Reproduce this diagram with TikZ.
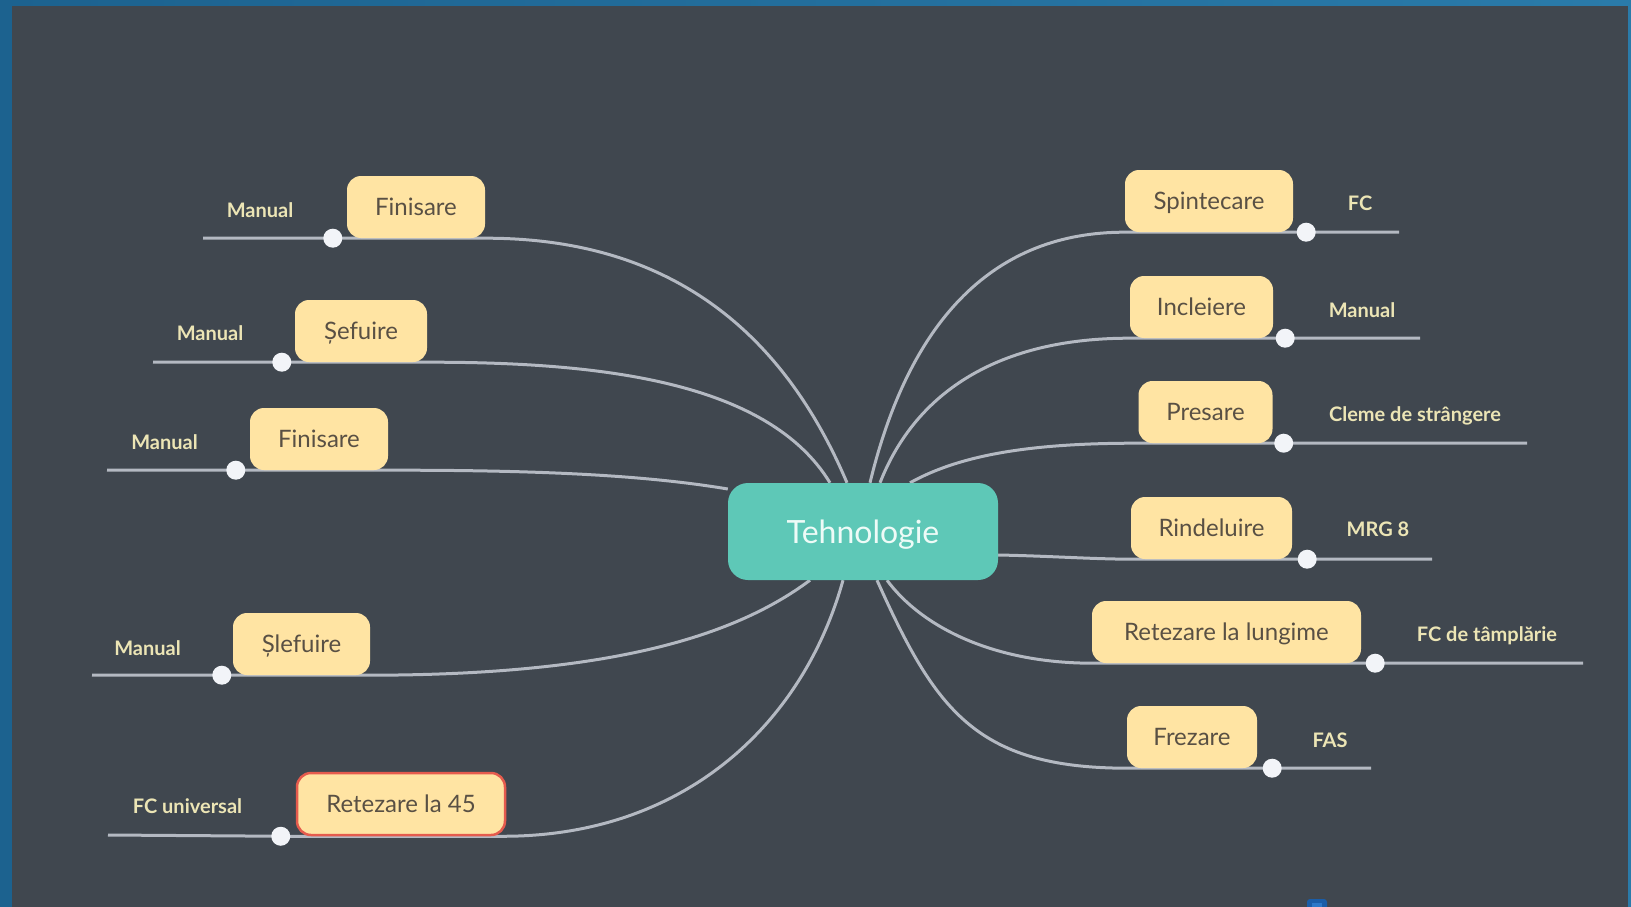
\documentclass[tikz,border=0pt]{standalone}
\usepackage{fontspec}
\setmainfont{Lato}
\usetikzlibrary{calc}
\definecolor{bgdark}{HTML}{40474F}
\definecolor{frameL}{HTML}{1C628F}
\definecolor{frameR}{HTML}{2A7BAA}
\definecolor{boxfill}{HTML}{FFE4A3}
\definecolor{boxtext}{HTML}{595044}
\definecolor{ctrfill}{HTML}{5EC8B7}
\definecolor{ctrtext}{HTML}{EEFBF7}
\definecolor{linec}{HTML}{B4B9C2}
\definecolor{dotc}{HTML}{F2F4F8}
\definecolor{labc}{HTML}{ECE5B5}
\definecolor{redb}{HTML}{E55B4D}
\definecolor{markA}{HTML}{1A5DA8}
\definecolor{markB}{HTML}{2C78C8}
\pgfdeclarelayer{bglayer}
\pgfdeclarelayer{linelayer}
\pgfsetlayers{bglayer,linelayer,main}
\tikzset{
  topic/.style={fill=boxfill, rounded corners=14pt, minimum height=62pt, inner sep=0pt,
    text=boxtext, font=\fontsize{24}{28}\selectfont, text height=17pt, text depth=0pt, align=center},
  central/.style={fill=ctrfill, rounded corners=20pt, minimum width=270pt, minimum height=97pt,
    inner sep=0pt, text=ctrtext, font=\fontsize{32}{38}\selectfont, text height=23pt, text depth=0pt},
  conn/.style={draw=linec, line width=3pt},
  dotnode/.style={circle, fill=dotc, minimum size=19pt, inner sep=0pt},
  lab/.style={text=labc, font=\fontsize{20}{24}\selectfont\bfseries, inner sep=0pt, text height=14pt, text depth=0pt}
}
\begin{document}
\begin{tikzpicture}[x=1pt,y=-1pt]
\useasboundingbox (0,0) rectangle (1631,907);
\clip (0,0) rectangle (1631,907);
\begin{pgfonlayer}{bglayer}
  \shade[left color=frameL, right color=frameR] (0,0) rectangle (1631,907);
  \fill[bgdark] (12,6) rectangle (1628,907);
  \fill[markA, rounded corners=3pt] (1307,899) rectangle (1327,916);
  \fill[markB] (1312,903) rectangle (1322,912);
\end{pgfonlayer}

% central node
\node[central] (ctr) at (863,531.5) {Tehnologie};

% left topics
\node[topic, minimum width=138pt] (f1) at (416,207) {Finisare};
\node[topic, minimum width=132pt] (s1) at (361,331) {Șefuire};
\node[topic, minimum width=138pt] (f2) at (319,439) {Finisare};
\node[topic, minimum width=137pt] (sl) at (301.5,644) {Șlefuire};
\node[topic, minimum width=208pt, draw=redb, line width=2.5pt] (r45) at (401,804) {Retezare la 45};

% right topics
\node[topic, minimum width=168pt] (sp) at (1209,201) {Spintecare};
\node[topic, minimum width=143pt] (inc) at (1201.5,307) {Incleiere};
\node[topic, minimum width=134pt] (pr) at (1205.5,412) {Presare};
\node[topic, minimum width=161pt] (ri) at (1211.5,528) {Rindeluire};
\node[topic, minimum width=269pt] (rl) at (1226.5,632) {Retezare la lungime};
\node[topic, minimum width=130pt] (fr) at (1192,737) {Frezare};

% dots
\node[dotnode] (df1) at ($(f1.south west)+(-14,0)$) {};
\node[dotnode] (ds1) at ($(s1.south west)+(-13,0)$) {};
\node[dotnode] (df2) at ($(f2.south west)+(-14,0)$) {};
\node[dotnode] (dsl) at ($(sl.south west)+(-11,0)$) {};
\node[dotnode] (dr45) at ($(r45.south west)+(-15,0)$) {};
\node[dotnode] (dsp) at ($(sp.south east)+(13,0)$) {};
\node[dotnode] (dinc) at ($(inc.south east)+(12,0)$) {};
\node[dotnode] (dpr) at ($(pr.south east)+(11,0)$) {};
\node[dotnode] (dri) at ($(ri.south east)+(15,0)$) {};
\node[dotnode] (drl) at ($(rl.south east)+(14,0)$) {};
\node[dotnode] (dfr) at ($(fr.south east)+(15,0)$) {};

% free ends of the label lines
\coordinate (ef1) at (203,238);
\coordinate (es1) at (153,362);
\coordinate (ef2) at (107,470);
\coordinate (esl) at (92,675);
\coordinate (er45) at (108,835);
\coordinate (esp) at (1399,232);
\coordinate (einc) at (1420,338);
\coordinate (epr) at (1527,443);
\coordinate (eri) at (1432,559);
\coordinate (erl) at (1583,663);
\coordinate (efr) at (1371,768);

% labels
\node[lab] (lf1) at (260,210) {Manual};
\node[lab] (ls1) at (210,333) {Manual};
\node[lab] (lf2) at (164.5,442) {Manual};
\node[lab] (lsl) at (147.5,648) {Manual};
\node[lab] (lr45) at (187.5,806) {FC universal};
\node[lab] (lsp) at (1360,203) {FC};
\node[lab] (linc) at (1362,310) {Manual};
\node[lab] (lpr) at (1415,414) {Cleme de strângere};
\node[lab] (lri) at (1378,529) {MRG 8};
\node[lab] (lrl) at (1487,634) {FC de tâmplărie};
\node[lab] (lfr) at (1330,740) {FAS};

% connectors
\begin{pgfonlayer}{linelayer}
\draw[conn] ($(ctr.north)+(-16,0)$) .. controls (769,299) and (635,238) .. (f1.south east) -- (df1.center) -- (ef1);
\draw[conn] ($(ctr.north)+(-33,0)$) .. controls (768,381) and (600,362) .. (s1.south east) -- (ds1.center) -- (es1);
\draw[conn] ($(ctr.west)+(0,-42.5)$) .. controls (650,476) and (550,470) .. (f2.south east) -- (df2.center) -- (ef2);
\draw[conn] ($(ctr.south)+(-53,0)$) .. controls (730,640) and (600,675) .. (sl.south east) -- (dsl.center) -- (esl);
\draw[conn] ($(ctr.south)+(-20,0)$) .. controls (803,724) and (685,835) .. (r45.south east) -- (dr45.center) -- (er45);
\draw[conn] ($(ctr.north)+(7,0)$) .. controls (910,318) and (995,232) .. (sp.south west) -- (dsp.center) -- (esp);
\draw[conn] ($(ctr.north)+(17,0)$) .. controls (916,391) and (1000,338) .. (inc.south west) -- (dinc.center) -- (einc);
\draw[conn] ($(ctr.north)+(47,0)$) .. controls (960,455) and (1030,443) .. (pr.south west) -- (dpr.center) -- (epr);
\draw[conn] ($(ctr.east)+(0,23.5)$) .. controls (1050,556) and (1090,559) .. (ri.south west) -- (dri.center) -- (eri);
\draw[conn] ($(ctr.south)+(24,0)$) .. controls (920,625) and (990,663) .. (rl.south west) -- (drl.center) -- (erl);
\draw[conn] ($(ctr.south)+(14,0)$) .. controls (935,709) and (975,768) .. (fr.south west) -- (dfr.center) -- (efr);
\end{pgfonlayer}
\end{tikzpicture}
\end{document}
